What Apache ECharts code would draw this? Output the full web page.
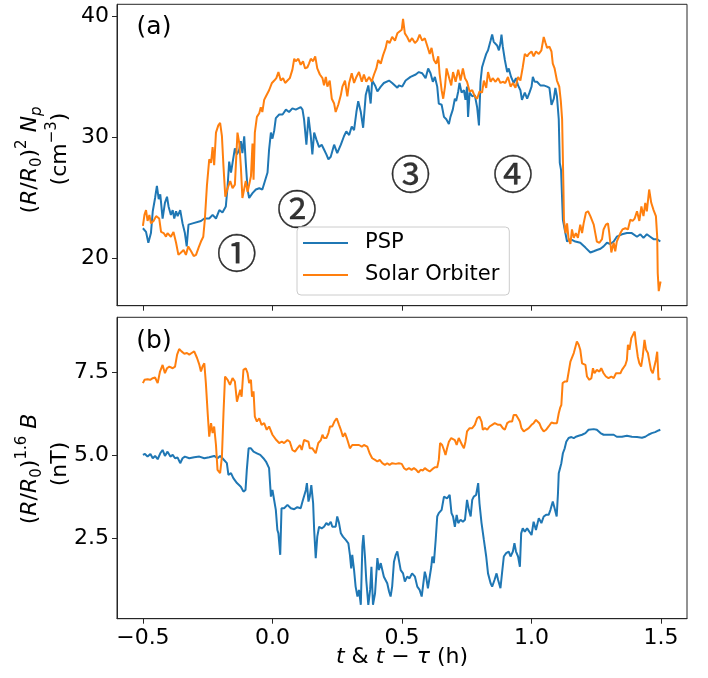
<!DOCTYPE html>
<html><head><meta charset="utf-8">
<script src="https://cdn.jsdelivr.net/npm/echarts@6/dist/echarts.min.js"></script>
<style>html,body{margin:0;padding:0;background:#fff}#c{width:708px;height:678px}</style>
</head><body><div id="c"></div>
<script>
// ---- data (time in hours, value) ----
const seriesNames = ['PSP', 'Solar Orbiter'];
const xTicks = [-0.5, 0, 0.5, 1.0, 1.5];
const npTicks = [20, 30, 40];
const bTicks = [2.5, 5.0, 7.5];
const regionLabels = ['\u2460', '\u2461', '\u2462', '\u2463'];
const regionPos = [[-0.138, 20.5], [0.095, 24.1], [0.533, 27.0], [0.928, 27.0]];

const pspNp = [[-0.500,22.5],[-0.488,22.2],[-0.479,21.3],[-0.469,22.1],[-0.462,23.9],[-0.453,25.0],[-0.446,26.0],[-0.439,24.9],[-0.433,25.3],[-0.424,23.3],[-0.415,24.6],[-0.407,25.1],[-0.401,24.3],[-0.392,23.6],[-0.385,24.0],[-0.379,23.3],[-0.372,23.9],[-0.366,23.5],[-0.356,24.0],[-0.347,22.9],[-0.338,22.1],[-0.331,21.0],[-0.324,22.8],[-0.308,22.9],[-0.276,23.1],[-0.263,23.3],[-0.244,23.3],[-0.231,23.6],[-0.218,23.3],[-0.205,24.0],[-0.193,23.8],[-0.180,24.3],[-0.173,26.0],[-0.167,28.0],[-0.160,27.1],[-0.154,27.9],[-0.145,29.1],[-0.137,28.6],[-0.128,29.0],[-0.122,29.7],[-0.116,28.7],[-0.109,30.1],[-0.103,27.9],[-0.096,25.7],[-0.090,25.0],[-0.077,25.4],[-0.064,25.7],[-0.051,25.8],[-0.039,25.7],[-0.029,26.4],[-0.019,27.1],[-0.013,29.0],[-0.006,30.4],[0.000,29.9],
[0.007,30.6],[0.013,31.6],[0.026,31.9],[0.039,31.9],[0.052,32.3],[0.064,32.1],[0.077,32.4],[0.090,32.3],[0.109,32.5],[0.116,32.3],[0.122,31.5],[0.131,29.4],[0.139,31.7],[0.148,30.1],[0.154,28.6],[0.161,30.4],[0.170,29.8],[0.180,29.2],[0.190,29.4],[0.199,29.0],[0.208,28.6],[0.216,28.2],[0.225,28.4],[0.238,29.4],[0.250,28.7],[0.264,29.4],[0.276,30.1],[0.285,30.5],[0.296,30.2],[0.306,30.9],[0.315,30.6],[0.324,32.1],[0.331,33.0],[0.341,32.1],[0.350,30.8],[0.360,33.5],[0.370,34.3],[0.379,32.8],[0.385,34.7],[0.396,34.3],[0.405,33.8],[0.418,34.2],[0.430,34.5],[0.450,34.7],[0.462,34.5],[0.482,34.1],
[0.488,34.3],[0.501,34.2],[0.514,34.7],[0.533,35.0],[0.553,35.2],[0.565,35.4],[0.578,35.3],[0.591,34.9],[0.601,35.7],[0.610,35.3],[0.619,34.6],[0.627,35.0],[0.636,34.2],[0.642,32.8],[0.653,32.7],[0.662,31.7],[0.671,31.5],[0.681,31.1],[0.687,31.7],[0.696,32.3],[0.704,33.2],[0.709,33.0],[0.717,33.8],[0.722,34.5],[0.730,33.7],[0.739,33.9],[0.745,33.1],[0.751,34.2],[0.755,31.7],[0.761,33.7],[0.771,33.4],[0.781,33.5],[0.790,32.5],[0.797,31.0],[0.803,34.6],[0.809,35.8],[0.816,36.3],[0.825,36.9],[0.832,37.2],[0.842,38.0],[0.848,38.5],[0.854,37.9],[0.861,38.0],[0.867,37.6],[0.874,37.2],[0.880,37.8],[0.884,38.5],[0.889,37.5],[0.897,36.4],[0.906,35.4],[0.912,35.7],[0.921,35.0],[0.931,34.5],[0.940,34.9],[0.948,34.3],[0.957,33.9],[0.963,33.1],[0.974,33.7],[0.983,33.2],
[0.992,33.7],[1.000,34.2],[1.005,35.0],[1.012,34.6],[1.021,34.6],[1.034,34.3],[1.047,34.3],[1.060,34.2],[1.069,34.1],[1.077,32.7],[1.086,33.2],[1.092,34.1],[1.098,33.4],[1.105,31.5],[1.109,27.9],[1.114,27.3],[1.118,24.9],[1.121,23.2],[1.128,22.4],[1.137,21.4],[1.150,21.6],[1.169,21.4],[1.188,21.3],[1.208,20.9],[1.227,20.5],[1.240,20.6],[1.252,20.7],[1.266,20.8],[1.278,21.0],[1.291,21.3],[1.304,21.2],[1.317,21.4],[1.329,21.8],[1.349,22.0],[1.368,22.1],[1.387,22.1],[1.407,21.8],[1.420,22.0],[1.432,21.7],[1.445,22.0],[1.458,21.8],[1.471,21.6],[1.484,21.6],[1.497,21.4]];

const solNp = [[-0.500,22.7],[-0.494,23.6],[-0.488,24.0],[-0.482,23.1],[-0.475,23.6],[-0.469,22.9],[-0.459,23.1],[-0.449,23.5],[-0.437,23.3],[-0.430,22.2],[-0.420,22.1],[-0.411,21.8],[-0.405,22.1],[-0.392,21.8],[-0.382,22.2],[-0.372,21.3],[-0.363,20.3],[-0.353,20.5],[-0.343,20.7],[-0.334,20.3],[-0.325,21.0],[-0.314,20.6],[-0.304,20.2],[-0.295,20.3],[-0.285,20.9],[-0.276,21.4],[-0.267,21.8],[-0.261,23.2],[-0.253,26.0],[-0.244,28.2],[-0.237,27.9],[-0.231,29.2],[-0.225,27.7],[-0.218,30.4],[-0.209,31.0],[-0.202,31.2],[-0.195,30.1],[-0.189,27.6],[-0.182,25.1],[-0.173,25.8],[-0.163,26.4],[-0.154,25.8],[-0.145,26.1],[-0.135,30.4],[-0.128,29.5],[-0.122,27.6],[-0.116,25.0],[-0.109,25.1],[-0.103,26.4],[-0.096,25.5],[-0.090,25.4],[-0.083,26.8],[-0.077,29.5],[-0.073,26.5],[-0.068,30.4],[-0.060,31.7],[-0.051,32.0],[-0.045,32.5],[-0.039,32.1],[-0.032,33.1],[-0.025,33.4],
[-0.013,33.9],[-0.002,34.5],[0.007,34.7],[0.015,34.9],[0.023,35.4],[0.032,34.7],[0.041,34.9],[0.049,34.5],[0.058,34.7],[0.067,34.9],[0.077,35.6],[0.084,36.5],[0.090,36.3],[0.100,36.5],[0.109,36.0],[0.118,36.3],[0.126,35.7],[0.135,35.8],[0.141,36.1],[0.148,36.5],[0.157,36.3],[0.165,36.7],[0.173,35.7],[0.183,35.2],[0.193,34.9],[0.199,34.3],[0.206,35.0],[0.212,34.2],[0.221,34.7],[0.229,33.2],[0.238,32.8],[0.244,32.1],[0.254,32.7],[0.264,33.5],[0.270,34.2],[0.280,34.7],[0.289,33.4],[0.296,34.5],[0.306,35.3],[0.315,34.5],[0.324,35.0],[0.334,35.4],[0.345,34.6],[0.353,35.2],[0.362,34.6],[0.373,35.0],[0.383,34.6],[0.392,35.2],[0.401,35.7],[0.408,36.4],[0.418,36.1],[0.427,36.8],[0.437,37.4],[0.443,38.0],[0.452,37.8],[0.462,38.3],[0.473,38.0],[0.482,38.6],
[0.488,38.6],[0.499,38.9],[0.504,39.8],[0.511,38.6],[0.520,38.3],[0.529,37.9],[0.539,38.2],[0.550,37.8],[0.559,38.0],[0.568,38.5],[0.578,38.0],[0.588,38.2],[0.597,37.6],[0.607,36.9],[0.614,37.4],[0.623,36.4],[0.632,36.1],[0.640,36.7],[0.645,35.3],[0.653,33.9],[0.659,33.2],[0.666,34.2],[0.672,35.7],[0.681,35.0],[0.690,34.3],[0.697,35.4],[0.707,34.6],[0.717,35.6],[0.726,34.7],[0.735,35.7],[0.743,34.9],[0.751,34.6],[0.761,33.8],[0.771,33.9],[0.781,33.4],[0.790,33.2],[0.799,33.8],[0.809,33.7],[0.816,34.7],[0.825,34.1],[0.832,35.4],[0.842,34.6],[0.850,34.9],[0.861,34.6],[0.871,34.9],[0.880,34.5],[0.889,34.6],[0.899,34.5],[0.909,35.0],[0.919,34.2],[0.928,34.5],[0.938,34.1],[0.948,35.0],[0.957,34.7],[0.966,35.8],[0.974,36.9],[0.983,36.7],
[0.989,36.9],[1.000,37.1],[1.008,36.7],[1.017,37.1],[1.028,36.9],[1.038,37.2],[1.047,38.3],[1.054,37.8],[1.060,37.4],[1.069,37.5],[1.077,37.1],[1.082,36.1],[1.089,35.7],[1.098,34.7],[1.107,34.2],[1.113,33.0],[1.118,31.5],[1.120,29.3],[1.123,26.0],[1.125,23.2],[1.131,22.1],[1.137,22.9],[1.143,21.6],[1.150,21.2],[1.156,22.4],[1.163,21.7],[1.171,22.1],[1.179,21.7],[1.188,22.8],[1.195,22.1],[1.201,22.9],[1.210,23.8],[1.218,23.9],[1.227,23.5],[1.233,23.6],[1.240,22.8],[1.246,22.1],[1.252,21.4],[1.262,21.3],[1.272,21.6],[1.278,22.4],[1.287,22.8],[1.295,22.9],[1.300,22.1],[1.308,20.5],[1.317,21.3],[1.323,20.6],[1.329,21.4],[1.336,21.3],[1.343,22.1],[1.351,22.4],[1.362,22.5],[1.372,22.4],[1.381,23.2],[1.390,23.1],[1.398,23.3],[1.407,23.9],[1.416,23.1],[1.424,24.3],[1.432,23.5],[1.439,24.6],[1.445,23.9],[1.454,25.7],[1.462,24.6],[1.471,24.0],[1.480,23.5],[1.485,21.8],[1.487,18.8],[1.491,17.3],[1.498,18.1]];

const pspB = [[-0.500,5.01],[-0.492,5.04],[-0.482,4.96],[-0.471,5.04],[-0.462,4.91],[-0.453,4.98],[-0.443,4.88],[-0.433,5.06],[-0.424,5.16],[-0.415,4.98],[-0.405,5.11],[-0.394,4.96],[-0.385,5.01],[-0.376,4.91],[-0.366,4.93],[-0.356,4.76],[-0.347,4.91],[-0.338,4.96],[-0.321,4.91],[-0.302,4.94],[-0.282,4.96],[-0.263,4.91],[-0.244,4.94],[-0.225,4.98],[-0.212,4.91],[-0.202,4.98],[-0.193,4.91],[-0.186,4.96],[-0.176,4.76],[-0.170,4.41],[-0.160,4.46],[-0.151,4.31],[-0.144,4.26],[-0.137,4.16],[-0.131,4.10],[-0.122,4.05],[-0.112,3.90],[-0.104,3.95],[-0.099,4.56],[-0.092,5.21],[-0.083,5.21],[-0.073,5.11],[-0.060,5.06],[-0.047,5.01],[-0.035,4.91],[-0.025,4.81],[-0.019,4.86],[-0.013,4.61],[-0.006,3.75],[0.000,3.95],
[0.007,3.90],[0.013,3.35],[0.019,2.74],[0.023,2.64],[0.030,1.99],[0.035,3.40],[0.045,3.40],[0.058,3.50],[0.071,3.40],[0.084,3.37],[0.096,3.43],[0.109,3.40],[0.116,3.60],[0.122,3.65],[0.129,3.95],[0.133,4.16],[0.139,3.60],[0.144,3.75],[0.150,4.10],[0.157,3.55],[0.161,2.74],[0.167,1.89],[0.173,2.54],[0.180,2.84],[0.190,2.79],[0.199,2.84],[0.208,2.95],[0.216,2.89],[0.225,2.99],[0.231,2.84],[0.238,2.79],[0.244,2.84],[0.250,3.15],[0.257,2.95],[0.264,2.64],[0.272,2.54],[0.283,2.44],[0.293,2.34],[0.299,1.99],[0.304,1.58],[0.308,1.99],[0.315,1.53],[0.321,1.03],[0.328,0.73],[0.334,0.93],[0.341,0.48],[0.347,2.24],[0.351,2.59],[0.357,1.94],[0.362,1.23],[0.370,0.48],[0.377,0.93],[0.382,1.63],[0.388,0.48],[0.396,0.83],[0.405,1.89],[0.411,1.53],[0.418,1.74],[0.424,1.53],[0.430,1.33],[0.437,1.28],[0.443,1.13],[0.450,0.88],[0.456,0.73],[0.462,1.03],[0.469,1.78],[0.476,1.99],[0.482,2.09],
[0.488,2.04],[0.495,1.53],[0.504,1.43],[0.511,1.18],[0.520,1.33],[0.529,1.28],[0.539,1.43],[0.550,1.33],[0.559,1.03],[0.568,0.93],[0.576,0.73],[0.581,0.78],[0.588,1.48],[0.593,1.33],[0.600,0.98],[0.607,0.93],[0.613,1.63],[0.617,1.94],[0.623,1.74],[0.630,2.44],[0.636,3.15],[0.642,3.25],[0.653,3.35],[0.662,3.75],[0.668,3.80],[0.674,3.70],[0.684,3.80],[0.691,3.25],[0.697,3.15],[0.704,2.84],[0.711,3.20],[0.717,2.95],[0.726,3.05],[0.735,2.99],[0.743,3.05],[0.751,3.65],[0.758,3.35],[0.765,3.15],[0.771,3.65],[0.777,3.75],[0.786,3.80],[0.794,4.16],[0.799,3.55],[0.807,2.95],[0.816,2.44],[0.825,1.94],[0.832,1.43],[0.842,1.13],[0.848,1.03],[0.857,1.23],[0.865,1.43],[0.871,1.23],[0.880,0.98],[0.886,1.43],[0.893,1.94],[0.902,2.04],[0.912,2.09],[0.919,1.94],[0.928,2.09],[0.934,2.34],[0.940,2.09],[0.948,1.94],[0.955,1.63],[0.960,2.64],[0.966,2.79],[0.974,2.69],[0.983,2.79],
[0.989,2.74],[1.000,2.59],[1.008,2.99],[1.017,2.74],[1.028,3.10],[1.038,2.95],[1.047,3.15],[1.056,3.20],[1.066,3.20],[1.073,3.35],[1.082,3.60],[1.089,3.40],[1.097,3.15],[1.102,3.85],[1.105,4.46],[1.111,4.41],[1.115,4.76],[1.121,5.06],[1.128,5.21],[1.134,5.41],[1.143,5.52],[1.154,5.55],[1.163,5.52],[1.171,5.56],[1.182,5.59],[1.195,5.62],[1.208,5.67],[1.220,5.77],[1.240,5.79],[1.252,5.77],[1.266,5.67],[1.278,5.62],[1.297,5.62],[1.317,5.62],[1.329,5.56],[1.349,5.56],[1.368,5.59],[1.387,5.56],[1.407,5.55],[1.426,5.53],[1.439,5.56],[1.451,5.62],[1.464,5.67],[1.477,5.70],[1.490,5.75],[1.497,5.77]];

const solB = [[-0.500,7.18],[-0.494,7.28],[-0.488,7.23],[-0.482,7.30],[-0.472,7.28],[-0.462,7.33],[-0.453,7.35],[-0.443,7.18],[-0.434,7.53],[-0.424,7.73],[-0.415,7.48],[-0.407,7.63],[-0.398,7.68],[-0.385,7.63],[-0.376,7.68],[-0.368,8.04],[-0.360,8.21],[-0.351,8.14],[-0.340,8.07],[-0.330,8.09],[-0.321,8.04],[-0.312,8.09],[-0.302,8.14],[-0.291,7.94],[-0.282,7.73],[-0.276,7.53],[-0.270,7.68],[-0.263,7.78],[-0.257,7.18],[-0.250,6.27],[-0.244,5.56],[-0.237,5.97],[-0.231,5.67],[-0.225,5.87],[-0.218,5.31],[-0.212,4.56],[-0.202,4.46],[-0.195,4.96],[-0.189,6.27],[-0.183,7.38],[-0.173,7.28],[-0.164,7.13],[-0.154,7.33],[-0.145,7.23],[-0.137,6.62],[-0.132,6.77],[-0.124,6.98],[-0.119,6.77],[-0.112,7.58],[-0.103,7.63],[-0.096,7.48],[-0.090,7.18],[-0.083,7.28],[-0.079,6.77],[-0.073,6.93],[-0.068,6.17],[-0.060,6.02],[-0.051,6.12],[-0.042,5.92],[-0.032,5.97],[-0.022,5.77],[-0.013,5.87],[0.000,5.62],
[0.007,5.56],[0.015,5.46],[0.026,5.37],[0.036,5.41],[0.045,5.37],[0.058,5.46],[0.067,5.41],[0.077,5.16],[0.087,5.11],[0.096,5.21],[0.106,5.31],[0.113,5.16],[0.122,5.46],[0.129,5.52],[0.139,5.41],[0.144,5.21],[0.154,5.21],[0.167,5.06],[0.177,5.37],[0.187,5.46],[0.193,5.62],[0.199,5.52],[0.208,5.52],[0.216,5.67],[0.222,5.87],[0.231,5.87],[0.239,6.02],[0.248,6.12],[0.257,5.92],[0.264,5.77],[0.272,5.56],[0.280,5.67],[0.287,5.52],[0.293,5.46],[0.299,5.21],[0.308,5.31],[0.321,5.31],[0.334,5.31],[0.345,5.26],[0.353,5.31],[0.366,5.26],[0.375,5.06],[0.385,4.91],[0.396,4.86],[0.405,4.81],[0.414,4.86],[0.424,4.76],[0.434,4.71],[0.443,4.76],[0.452,4.71],[0.462,4.76],[0.476,4.74],
[0.488,4.76],[0.499,4.74],[0.508,4.61],[0.516,4.56],[0.527,4.61],[0.537,4.56],[0.546,4.61],[0.555,4.56],[0.563,4.48],[0.572,4.56],[0.581,4.54],[0.588,4.61],[0.597,4.56],[0.607,4.51],[0.617,4.58],[0.627,4.64],[0.636,4.64],[0.642,4.86],[0.647,5.37],[0.655,5.31],[0.662,5.16],[0.668,5.01],[0.674,5.21],[0.681,5.41],[0.690,5.52],[0.697,5.56],[0.704,5.46],[0.711,5.31],[0.719,5.52],[0.726,5.46],[0.732,5.31],[0.739,5.21],[0.745,5.41],[0.751,5.72],[0.761,5.82],[0.771,5.82],[0.781,5.92],[0.790,6.12],[0.799,6.17],[0.807,6.02],[0.812,5.77],[0.820,5.82],[0.829,5.77],[0.838,5.87],[0.848,5.92],[0.858,5.97],[0.863,6.02],[0.871,5.92],[0.880,5.92],[0.889,5.82],[0.897,5.77],[0.906,5.97],[0.915,6.02],[0.925,6.02],[0.931,6.22],[0.940,6.22],[0.948,6.12],[0.955,6.02],[0.961,5.82],[0.970,5.72],[0.979,5.77],
[0.989,5.82],[1.000,5.92],[1.008,5.97],[1.017,6.07],[1.024,6.12],[1.030,5.97],[1.038,5.82],[1.047,5.72],[1.056,5.77],[1.066,5.87],[1.077,5.99],[1.086,5.97],[1.098,5.97],[1.105,6.27],[1.111,6.45],[1.115,6.52],[1.120,7.18],[1.128,7.23],[1.137,7.23],[1.143,7.28],[1.150,7.83],[1.156,7.88],[1.163,8.09],[1.169,8.04],[1.175,8.44],[1.182,8.34],[1.188,8.19],[1.195,7.78],[1.201,7.73],[1.208,7.73],[1.214,7.38],[1.223,7.28],[1.231,7.33],[1.237,7.63],[1.243,7.48],[1.252,7.58],[1.262,7.53],[1.269,7.63],[1.278,7.48],[1.287,7.38],[1.297,7.33],[1.308,7.38],[1.317,7.33],[1.326,7.48],[1.333,7.53],[1.343,7.48],[1.349,7.58],[1.356,7.58],[1.362,7.73],[1.368,7.88],[1.372,8.34],[1.378,8.19],[1.385,8.54],[1.391,8.59],[1.398,8.74],[1.403,8.39],[1.410,7.98],[1.416,7.78],[1.423,7.68],[1.429,7.98],[1.436,8.49],[1.442,8.19],[1.449,8.09],[1.455,7.83],[1.461,7.58],[1.468,7.48],[1.474,7.53],[1.480,7.88],[1.485,8.13],[1.490,7.28],[1.497,7.33]];

// ---- chart ----
const FF = 'DejaVu Sans';
const FS = 22;
const COL = ['#1f77b4', '#ff7f0e'];
const AX = '#262626';
const fmtX = v => (v < 0 ? '\u2212' : '') + Math.abs(v).toFixed(1);

const chart = echarts.init(document.getElementById('c'), null, {renderer: 'canvas'});

function xAxis(idx, showLabel) {
  return {
    type: 'value', gridIndex: idx, min: -0.6, max: 1.6,
    splitLine: {show: false},
    axisLine: {show: true, onZero: false, lineStyle: {color: AX, width: 1}},
    axisTick: {show: true, length: 5, lineStyle: {color: AX, width: 1}, customValues: xTicks},
    axisLabel: {show: showLabel, customValues: xTicks, formatter: fmtX, fontFamily: FF, fontSize: FS, color: '#000', margin: 9}
  };
}
function yAxis(idx, min, max, ticks, fmt) {
  return {
    type: 'value', gridIndex: idx, min: min, max: max,
    splitLine: {show: false},
    axisLine: {show: true, onZero: false, lineStyle: {color: AX, width: 1}},
    axisTick: {show: true, length: 5, lineStyle: {color: AX, width: 1}, customValues: ticks},
    axisLabel: {customValues: ticks, formatter: fmt, fontFamily: FF, fontSize: FS, color: '#000', margin: 8}
  };
}

const richBase = {
  n: {fontFamily: FF, fontSize: FS, lineHeight: 30, verticalAlign: 'middle', fill: '#000'},
  i: {fontFamily: FF, fontSize: FS, fontStyle: 'italic', lineHeight: 30, verticalAlign: 'middle', fill: '#000'},
  sup: {fontFamily: FF, fontSize: 15, lineHeight: 15, verticalAlign: 'top', fill: '#000'},
  sub: {fontFamily: FF, fontSize: 15, lineHeight: 15, verticalAlign: 'bottom', fill: '#000'},
  subi: {fontFamily: FF, fontSize: 15, fontStyle: 'italic', lineHeight: 15, verticalAlign: 'bottom', fill: '#000'}
};
function rtext(x, y, text, rot) {
  return {type: 'text', x: x, y: y, rotation: rot || 0, z: 100,
    style: {text: text, rich: richBase, align: 'center', verticalAlign: 'middle', font: FS + 'px ' + FF}};
}

const graphics = [
  rtext(30, 160, '{n|(}{i|R}{n|/}{i|R}{sub|0}{n|)}{sup|2}{n| }{i|N}{subi|p}', Math.PI / 2),
  rtext(60, 149, '{n|(cm}{sup|\u22123}{n|)}', Math.PI / 2),
  rtext(30, 469, '{n|(}{i|R}{n|/}{i|R}{sub|0}{n|)}{sup|1.6}{n| }{i|B}', Math.PI / 2),
  rtext(60, 464, '{n|(nT)}', Math.PI / 2),
  rtext(402, 657, '{i|t}{n| & }{i|t}{n| \u2212 }{i|\u03c4}{n| (h)}', 0),
  {type: 'text', x: 154, y: 27, z: 100, style: {text: '(a)', font: '25px ' + FF, fill: '#000', align: 'center', verticalAlign: 'middle'}},
  {type: 'text', x: 154, y: 341, z: 100, style: {text: '(b)', font: '25px ' + FF, fill: '#000', align: 'center', verticalAlign: 'middle'}}
];

const option = {
  animation: false,
  backgroundColor: '#fff',
  grid: [
    {left: 117, top: 4.3, width: 570, height: 301.4, show: true, borderColor: AX, borderWidth: 1, backgroundColor: 'transparent'},
    {left: 117, top: 317.3, width: 570, height: 301.4, show: true, borderColor: AX, borderWidth: 1, backgroundColor: 'transparent'}
  ],
  xAxis: [xAxis(0, false), xAxis(1, true)],
  yAxis: [
    yAxis(0, 16.1, 41.0, npTicks, v => String(v)),
    yAxis(1, 0.06, 9.17, bTicks, v => v.toFixed(1))
  ],
  legend: {
    data: seriesNames, orient: 'vertical', left: 297, top: 227,
    padding: [5, 10, 9, 6], itemWidth: 45, itemHeight: 2, itemGap: 10, icon: 'rect',
    backgroundColor: 'rgba(255,255,255,0.8)', borderColor: '#cccccc', borderWidth: 1, borderRadius: 4,
    textStyle: {fontFamily: FF, fontSize: 21, lineHeight: 22, color: '#000', padding: [0, 0, 0, 12]},
    selectedMode: false, z: 50
  },
  graphic: graphics,
  series: [
    {name: seriesNames[0], type: 'line', xAxisIndex: 0, yAxisIndex: 0, data: pspNp, showSymbol: false, symbol: 'none', lineStyle: {width: 2, color: COL[0]}, itemStyle: {color: COL[0]}},
    {name: seriesNames[1], type: 'line', xAxisIndex: 0, yAxisIndex: 0, data: solNp, showSymbol: false, symbol: 'none', lineStyle: {width: 2, color: COL[1]}, itemStyle: {color: COL[1]}},
    {name: seriesNames[0], type: 'line', xAxisIndex: 1, yAxisIndex: 1, data: pspB, showSymbol: false, symbol: 'none', lineStyle: {width: 2, color: COL[0]}, itemStyle: {color: COL[0]}},
    {name: seriesNames[1], type: 'line', xAxisIndex: 1, yAxisIndex: 1, data: solB, showSymbol: false, symbol: 'none', lineStyle: {width: 2, color: COL[1]}, itemStyle: {color: COL[1]}},
    {type: 'scatter', xAxisIndex: 0, yAxisIndex: 0, symbolSize: 0, silent: true, z: 10,
      data: regionPos.map((p, k) => ({value: p, label: {show: true, position: 'inside', formatter: regionLabels[k], fontFamily: 'Noto Sans CJK SC', fontSize: 40, color: '#000', textBorderColor: '#000', textBorderWidth: 0.35, fontWeight: 'normal'}}))}
  ]
};
chart.setOption(option);
</script>
</body></html>
